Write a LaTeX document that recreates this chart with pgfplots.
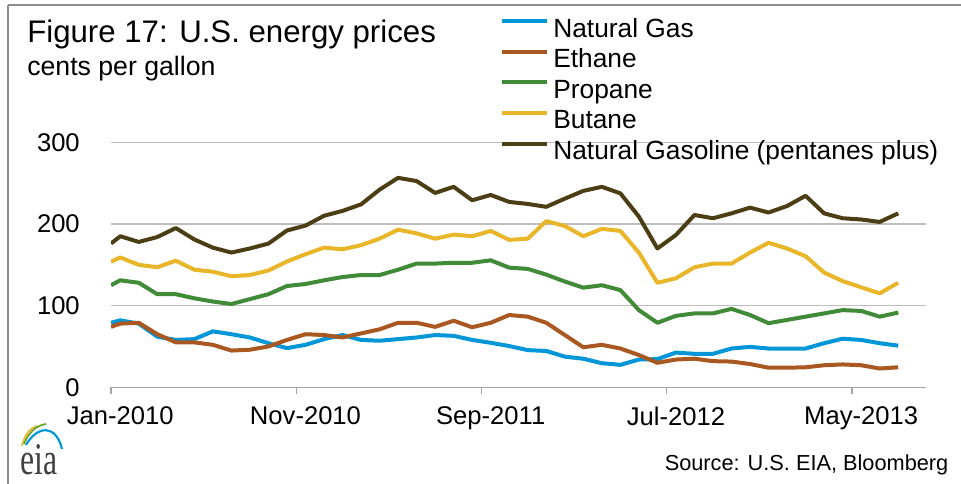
\documentclass[border=0pt]{standalone}
\usepackage{fontspec}
\setmainfont{Liberation Sans}
\newfontfamily\eiaserif{Liberation Serif}
\usepackage{pgfplots}
\usepackage{pgfplotstable}
\pgfplotsset{compat=1.18}
\definecolor{ngblue}{RGB}{0,150,215}
\definecolor{ethbrown}{RGB}{168,88,32}
\definecolor{propgreen}{RGB}{64,138,56}
\definecolor{butyellow}{RGB}{232,182,40}
\definecolor{ngldark}{RGB}{76,62,20}
\definecolor{framegray}{RGB}{140,140,140}
\definecolor{gridgray}{RGB}{190,190,190}
\definecolor{axisgray}{RGB}{165,165,165}

\pgfplotstableread{
idx  ng    eth   prop   but    ngl
-0.5 79    74    125    153.7  176
0    82    78    131    159    185
1    78    79    128    150    178
2    62    65    114    147    184
3    58    55    114    155    195
4    59    55    109    144    181
5    68.5  52    105    141.5  171
6    65    45    102    136    165
7    61    46    108    137.5  170
8    54    50    114    143    176
9    48    58    124    154    192
10   52    65    126.5  163    198
11   59    64    131    171    210
12   64    61    135    169    216
13   58    66    137.5  174    224
14   57    71    137.5  182    242
15   59    79    144    193    256.5
16   61    79    151.5  188.5  252.5
17   64    74    151.5  182    238
18   63    81.5  152.5  187    245.5
19   58    73.5  152.5  185    229
20   54.5  79    155.5  191.5  235.5
21   50.5  88.5  146.5  180.5  227
22   45.5  86.5  145    182    224.5
23   44.5  79    138    203.5  221
24   37.5  64    129.5  197.5  231
25   35    49    122    185    240.5
26   29.5  52    125    194    245.5
27   27.5  47.5  119    191.5  237.5
28   34    39.5  94.5   165    209
29   34.5  30    79     128    170
30   42.5  34    87.5   133.5  186.5
31   41    35    90.5   147    211
32   41    32    90.5   151.5  207
33   47.5  31.5  96     151.5  213
34   49.5  28.5  88.5   165    220
35   47.5  24    78.5   177    214
36   47.5  24    82.5   170    222
37   47.5  24.5  86.5   160.5  234.5
38   54    27    90.5   140.5  213
39   59.5  28    94.5   130    207
40   58    27    93.5   122.5  205.5
41   54    23    86.5   115    202.5
42   51    24.5  91.5   128    213
}\prices

\begin{document}
\begin{tikzpicture}
\useasboundingbox (0,0) rectangle (720.75pt,-363pt);
% frame
\draw[framegray, line width=1.5pt] (6pt,-3.75pt) -- (720.75pt,-3.75pt);
\draw[framegray, line width=1.5pt] (6pt,-3.75pt) -- (6pt,-363pt);

\begin{axis}[
  at={(83.25pt,-290.475pt)}, anchor=south west,
  scale only axis, width=611.25pt, height=183.75pt,
  xmin=-0.5, xmax=43.5, ymin=0, ymax=300,
  axis lines*=left,
  y axis line style={draw=none},
  x axis line style={draw=axisgray, line width=1pt},
  ytick={0,100,200,300},
  ytick style={draw=none},
  ymajorgrids, grid style={draw=gridgray, line width=1pt},
  xtick={-0.5,9.5,19.5,29.5,39.5},
  xticklabels={,,,,},
  xtick align=outside,
  xtick style={draw=axisgray, line width=1pt},
  major tick length=5pt,
  extra x ticks={0,10,20,30,40},
  extra x tick labels={Jan-2010,Nov-2010,Sep-2011,Jul-2012,May-2013},
  extra x tick style={major tick length=0pt, grid=none, xtick style={draw=none}},
  xticklabel style={anchor=north, inner sep=0pt, yshift=-14.5pt, font=\fontsize{19.2}{23}\selectfont},
  yticklabel style={anchor=east, inner sep=0pt, xshift=-23.25pt, font=\fontsize{19.2}{23}\selectfont},
  /pgf/number format/assume math mode=true,
  legend cell align=left,
  legend style={at={(0.4773,1.505)}, anchor=north west, draw=none, fill=none,
    inner sep=0pt, outer sep=0pt, row sep=4.7pt,
    font=\fontsize{19.75}{23}\selectfont,
    nodes={inner sep=0pt, text height=14.1pt, text depth=4.1pt},
    /tikz/every odd column/.append style={column sep=3pt}},
  legend image code/.code={\draw[#1, line width=3pt] (0pt,7pt) -- (34pt,7pt);},
  every axis plot/.append style={line width=3pt, line join=round, no marks},
]
\addplot[ngblue] table[x=idx, y=ng] {\prices};
\addlegendentry{Natural Gas}
\addplot[ethbrown] table[x=idx, y=eth] {\prices};
\addlegendentry{Ethane}
\addplot[propgreen] table[x=idx, y=prop] {\prices};
\addlegendentry{Propane}
\addplot[butyellow] table[x=idx, y=but] {\prices};
\addlegendentry{Butane}
\addplot[ngldark] table[x=idx, y=ngl] {\prices};
\addlegendentry{Natural Gasoline (pentanes plus)}
\end{axis}

% titles
\node[anchor=base west, inner sep=0pt, font=\fontsize{23.4}{28}\selectfont] at (20.25pt,-32pt) {Figure 17: U.S. energy prices};
\node[anchor=base west, inner sep=0pt, font=\fontsize{20}{24}\selectfont] at (20.25pt,-57pt) {cents per gallon};
\node[anchor=base east, inner sep=0pt, font=\fontsize{16.3}{20}\selectfont] at (711.4pt,-353.25pt) {Source: U.S. EIA, Bloomberg};

% eia logo
\draw[butyellow, line width=1.3pt] (16.5pt,-334.5pt) .. controls (18.5pt,-326pt) and (22.5pt,-321pt) .. (27.75pt,-319.5pt);
\draw[propgreen!80!yellow, line width=1.3pt] (18pt,-333pt) .. controls (21.5pt,-324pt) and (27.5pt,-319pt) .. (34.5pt,-318pt);
\draw[ngblue, line width=1.6pt] (19.5pt,-333.75pt) .. controls (28pt,-319pt) and (42pt,-318pt) .. (46.5pt,-336.75pt);
\node[anchor=base west, inner sep=0pt, xscale=0.7, text=black!75, font=\eiaserif\fontsize{34}{38}\selectfont] at (15pt,-356pt) {eia};
\end{tikzpicture}
\end{document}
